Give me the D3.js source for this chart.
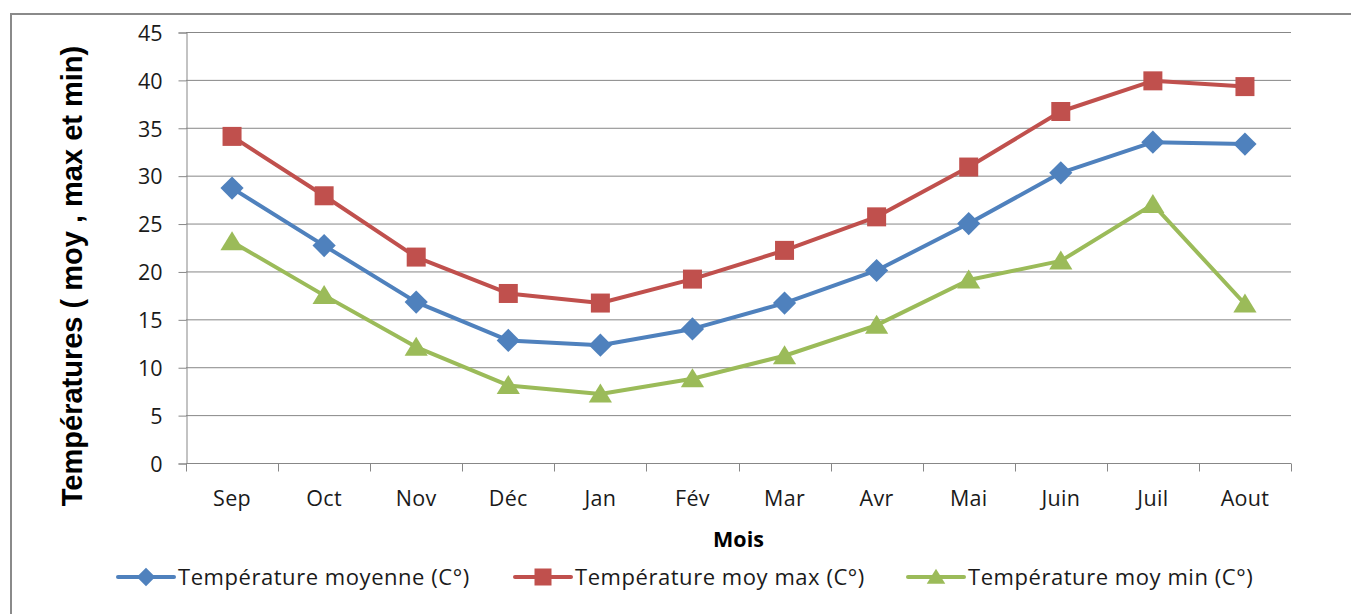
<!DOCTYPE html>
<html>
<head>
<meta charset="utf-8">
<script src="https://cdn.jsdelivr.net/npm/d3@7"></script>
<style>
  html, body { margin: 0; padding: 0; background: #fff; }
  svg { display: block; }
</style>
</head>
<body>
<svg id="chart" width="1351" height="614"></svg>
<script>
// ---- Data ----
const months = ["Sep", "Oct", "Nov", "Déc", "Jan", "Fév", "Mar", "Avr", "Mai", "Juin", "Juil", "Aout"];
const tMoyenne = [28.7, 22.7, 16.8, 12.8, 12.3, 14.0, 16.7, 20.1, 25.0, 30.3, 33.5, 33.3];
const tMax     = [34.1, 27.9, 21.5, 17.7, 16.7, 19.2, 22.2, 25.7, 30.9, 36.7, 39.9, 39.3];
const tMin     = [23.1, 17.5, 12.1, 8.1, 7.2, 8.8, 11.2, 14.4, 19.1, 21.1, 27.0, 16.6];
const yTicks   = [0, 5, 10, 15, 20, 25, 30, 35, 40, 45];
const seriesNames = ["Température moyenne (C°)", "Température moy max (C°)", "Température moy min (C°)"];

(function () {
const series = [
  { name: seriesNames[0], values: tMoyenne, color: "#4F81BD", marker: "diamond" },
  { name: seriesNames[1], values: tMax,     color: "#C0504D", marker: "square" },
  { name: seriesNames[2], values: tMin,     color: "#9BBB59", marker: "triangle" }
];

const svg = d3.select("#chart");
const pLeft = 186, pRight = 1291, pTop = 32, pBottom = 463;

// Outer frame
svg.append("rect")
  .attr("x", 11).attr("y", 14)
  .attr("width", 1360).attr("height", 620)
  .attr("fill", "none").attr("stroke", "#8a8a8a").attr("stroke-width", 2);

const x = d3.scaleBand().domain(months).range([pLeft, pRight]).padding(0);
const y = d3.scaleLinear().domain([0, 45]).range([pBottom, pTop]);
const cx = m => x(m) + x.bandwidth() / 2;

const gridColor = "#878787";

// Gridlines
svg.append("g").selectAll("line").data(yTicks.filter(t => t > 0)).join("line")
  .attr("x1", pLeft).attr("x2", pRight)
  .attr("y1", d => y(d) + 0.5).attr("y2", d => y(d) + 0.5)
  .attr("stroke", gridColor).attr("stroke-width", 1);

// Y axis
const yAxis = svg.append("g").attr("transform", `translate(${pLeft + 0.5},0.5)`)
  .call(d3.axisLeft(y).tickValues(yTicks).tickSize(8).tickPadding(16).tickFormat(d3.format("d")));
yAxis.select(".domain").attr("stroke", gridColor);
yAxis.selectAll(".tick line").attr("stroke", gridColor);
yAxis.selectAll(".tick text")
  .attr("font-family", "'Open Sans', sans-serif").attr("font-size", 21.5).attr("fill", "#1a1a1a")
  .attr("dy", "0.36em");

// X axis
const xAxis = svg.append("g").attr("transform", `translate(0,${pBottom + 0.5})`);
xAxis.append("line").attr("x1", pLeft).attr("x2", pRight).attr("stroke", gridColor);
const bounds = months.map(m => x(m)).concat([pRight]);
xAxis.selectAll("line.tk").data(bounds).join("line").attr("class", "tk")
  .attr("x1", d => Math.round(d) + 0.5).attr("x2", d => Math.round(d) + 0.5)
  .attr("y1", 0).attr("y2", 8).attr("stroke", gridColor);
xAxis.selectAll("text").data(months).join("text")
  .attr("x", d => cx(d)).attr("y", 42)
  .attr("text-anchor", "middle")
  .attr("font-family", "'Open Sans', sans-serif").attr("font-size", 21.5).attr("fill", "#1a1a1a")
  .attr("letter-spacing", 0.3)
  .text(d => d);

// Axis titles
svg.append("text")
  .attr("x", (pLeft + pRight) / 2).attr("y", 547)
  .attr("text-anchor", "middle")
  .attr("font-family", "'Open Sans', sans-serif").attr("font-weight", "bold").attr("font-size", 21.5)
  .attr("fill", "#000").text("Mois");

svg.append("text")
  .attr("transform", "translate(82,276) rotate(-90)")
  .attr("text-anchor", "middle")
  .attr("font-family", "'Liberation Sans', Arial, sans-serif").attr("font-weight", "bold").attr("font-size", 29)
  .attr("fill", "#000").text("Températures ( moy , max et min)");

// Marker generator
function drawMarker(g, type, color, px, py, s) {
  if (type === "square") {
    g.append("rect").attr("x", px - s / 2).attr("y", py - s / 2)
      .attr("width", s).attr("height", s).attr("fill", color);
  } else if (type === "diamond") {
    const h = s * 0.58;
    g.append("path").attr("d", `M${px},${py - h}L${px + h},${py}L${px},${py + h}L${px - h},${py}Z`).attr("fill", color);
  } else {
    const w = s * 0.58, hh = s * 0.95;
    g.append("path").attr("d", `M${px},${py - hh * 0.55}L${px + w},${py + hh * 0.45}L${px - w},${py + hh * 0.45}Z`).attr("fill", color);
  }
}

// Lines and markers
const line = d3.line().x((d, i) => cx(months[i])).y(d => y(d));
series.forEach(s => {
  const g = svg.append("g");
  g.append("path").datum(s.values).attr("d", line)
    .attr("fill", "none").attr("stroke", s.color).attr("stroke-width", 4)
    .attr("stroke-linejoin", "round").attr("stroke-linecap", "round");
  s.values.forEach((v, i) => {
    const size = s.marker === "square" ? 19 : 20;
    drawMarker(g, s.marker, s.color, cx(months[i]), y(v), size);
  });
});

// Legend
const legendY = 577;
const legendX = [118, 515, 908];
series.forEach((s, i) => {
  const g = svg.append("g");
  const x0 = legendX[i];
  g.append("line").attr("x1", x0).attr("x2", x0 + 56).attr("y1", legendY).attr("y2", legendY)
    .attr("stroke", s.color).attr("stroke-width", 4).attr("stroke-linecap", "round");
  drawMarker(g, s.marker, s.color, x0 + 28, legendY, s.marker === "square" ? 17 : 16);
  g.append("text").attr("x", x0 + 60).attr("y", legendY).attr("dy", "0.36em")
    .attr("font-family", "'Open Sans', sans-serif").attr("font-size", 22).attr("fill", "#1a1a1a")
    .attr("letter-spacing", 0.55)
    .text(s.name);
});
})();
</script>
</body>
</html>
